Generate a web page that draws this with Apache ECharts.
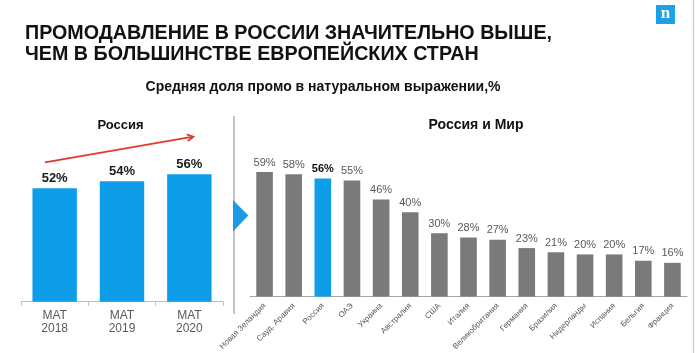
<!DOCTYPE html>
<html>
<head>
<meta charset="utf-8">
<script src="https://cdn.jsdelivr.net/npm/echarts@6/dist/echarts.min.js"></script>
<style>
html,body{margin:0;padding:0;background:#fff;}
#chart{width:700px;height:353px;}
</style>
</head>
<body>
<div id="chart"></div>
<script>
// ---- data ----
const leftCategories = ['МАТ\n2018', 'МАТ\n2019', 'МАТ\n2020'];
const leftValues = [52, 54, 56];
const rightCategories = ['Новая Зеландия', 'Сауд. Аравия', 'Россия', 'ОАЭ', 'Украина', 'Австралия', 'США', 'Италия', 'Великобритания', 'Германия', 'Бразилия', 'Нидерланды', 'Испания', 'Бельгия', 'Франция'];
const rightValues = [59, 58, 56, 55, 46, 40, 30, 28, 27, 23, 21, 20, 20, 17, 16];
const highlightCategory = 'Россия';

const FONT = '"Liberation Sans", Arial, sans-serif';
const BLUE = '#0e9de8';
const GRAY = '#7a7a7a';

const chart = echarts.init(document.getElementById('chart'), null, {renderer: 'canvas'});

const rightData = rightValues.map((v, i) => rightCategories[i] === highlightCategory
  ? {value: v, itemStyle: {color: BLUE}, label: {fontWeight: 'bold', color: '#111', fontSize: 11}}
  : v);

// arrow head geometry (decoration)
const ax1 = 45, ay1 = 162.3, ax2 = 193.3, ay2 = 136.7;
const ang = Math.atan2(ay2 - ay1, ax2 - ax1);
const hl = 7, ha = 0.5;
const headPts = [
  [ax2 - hl * Math.cos(ang - ha), ay2 - hl * Math.sin(ang - ha)],
  [ax2, ay2],
  [ax2 - hl * Math.cos(ang + ha), ay2 - hl * Math.sin(ang + ha)]
];

const option = {
  backgroundColor: '#fff',
  animation: false,
  textStyle: {fontFamily: FONT},
  grid: [
    {left: 21, width: 202, top: 160, bottom: 51.3, containLabel: false},
    {left: 250, right: 13, top: 170, bottom: 52, containLabel: false}
  ],
  xAxis: [
    {
      type: 'category', gridIndex: 0, data: leftCategories,
      axisLine: {lineStyle: {color: '#bfbfbf', width: 1}},
      axisTick: {show: true, length: 4, lineStyle: {color: '#bfbfbf'}},
      axisLabel: {color: '#595959', fontSize: 12, lineHeight: 13, margin: 7, fontFamily: FONT}
    },
    {
      type: 'category', gridIndex: 1, data: rightCategories,
      axisLine: {lineStyle: {color: '#a6a6a6', width: 1}},
      axisTick: {show: false},
      axisLabel: {color: '#595959', fontSize: 8, rotate: 45, margin: 8, interval: 0, fontFamily: FONT}
    }
  ],
  yAxis: [
    {type: 'value', gridIndex: 0, min: 20, max: 60, show: false},
    {type: 'value', gridIndex: 1, min: 0, max: 60, show: false}
  ],
  series: [
    {
      type: 'bar', xAxisIndex: 0, yAxisIndex: 0, data: leftValues,
      barWidth: '66%', itemStyle: {color: BLUE},
      label: {show: true, position: 'top', distance: 3, formatter: '{c}%', fontSize: 13, fontWeight: 'bold', color: '#1a1a1a', fontFamily: FONT}
    },
    {
      type: 'bar', xAxisIndex: 1, yAxisIndex: 1, data: rightData,
      barWidth: '57%', itemStyle: {color: GRAY},
      label: {show: true, position: 'top', distance: 4, formatter: '{c}%', fontSize: 11, color: '#595959', fontFamily: FONT}
    }
  ],
  graphic: [
    {type: 'text', style: {text: 'ПРОМОДАВЛЕНИЕ В РОССИИ ЗНАЧИТЕЛЬНО ВЫШЕ,\nЧЕМ В БОЛЬШИНСТВЕ ЕВРОПЕЙСКИХ СТРАН', x: 25, y: 23, font: 'bold 19.7px ' + FONT, lineHeight: 21, fill: '#111', textAlign: 'left', textVerticalAlign: 'top', align: 'left', verticalAlign: 'top'}},
    {type: 'text', style: {text: 'Средняя доля промо в натуральном выражении,%', x: 323, y: 87, font: 'bold 14px ' + FONT, fill: '#111', textAlign: 'center', textVerticalAlign: 'middle', align: 'center', verticalAlign: 'middle'}},
    {type: 'text', style: {text: 'Россия', x: 120.5, y: 125.5, font: 'bold 13px ' + FONT, fill: '#111', textAlign: 'center', textVerticalAlign: 'middle', align: 'center', verticalAlign: 'middle'}},
    {type: 'text', style: {text: 'Россия и Мир', x: 476, y: 125.5, font: 'bold 14px ' + FONT, fill: '#111', textAlign: 'center', textVerticalAlign: 'middle', align: 'center', verticalAlign: 'middle'}},
    // logo
    {type: 'rect', shape: {x: 656, y: 5, width: 19, height: 19}, style: {fill: '#1da1e6'}},
    {type: 'text', style: {text: 'n', x: 665.5, y: 14, font: 'bold 17px "Liberation Serif", serif', fill: '#fff', textAlign: 'center', textVerticalAlign: 'middle', align: 'center', verticalAlign: 'middle'}},
    // right border
    {type: 'line', shape: {x1: 693.5, y1: 0, x2: 693.5, y2: 353}, style: {stroke: '#d0d0d0', lineWidth: 1.5}},
    // separator
    {type: 'line', shape: {x1: 234, y1: 116, x2: 234, y2: 314}, style: {stroke: '#c4c4c4', lineWidth: 2}},
    // triangle
    {type: 'polygon', shape: {points: [[233, 200], [248.3, 215.5], [233, 231.5]]}, style: {fill: '#1a9be6'}},
    // red arrow
    {type: 'line', shape: {x1: ax1, y1: ay1, x2: ax2, y2: ay2}, style: {stroke: '#e0392f', lineWidth: 1.8}},
    {type: 'polyline', shape: {points: headPts}, style: {stroke: '#e0392f', lineWidth: 1.8, fill: null}}
  ]
};
chart.setOption(option);
</script>
</body>
</html>
